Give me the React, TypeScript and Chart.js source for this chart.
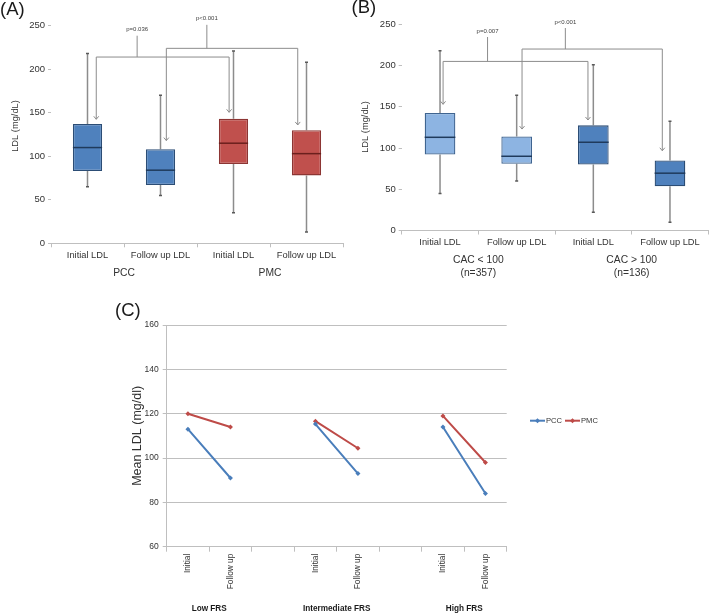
import React, { useEffect, useRef } from "react";
import { Chart, registerables } from "chart.js";

Chart.register(...registerables);

const FONT = "'Liberation Sans', Arial, Helvetica, sans-serif";
Chart.defaults.font.family = FONT;

// ---------------- Panel A data ----------------
const boxLabels = ["Initial LDL", "Follow up LDL", "Initial LDL", "Follow up LDL"];
const aGroups = [["PCC"], ["PMC"]];
const aMin = [65, 55, 35, 13];
const aQ1 = [83, 67, 91, 78];
const aMedian = [110, 84, 115, 103];
const aQ3 = [137, 108, 143, 130];
const aMax = [218, 170, 221, 208];
const aPLabels = ["p=0.036", "p<0.001"];
const aBracketFrom = [0.12, 1.08];
const aBracketTo = [1.94, 2.88];
const aBracketStem = [0.68, 1.635];
const aBracketLevel = [214, 224];
const aArrowFrom = [142.5, 118];
const aArrowTo = [150.5, 136];
const aStemTop = [238.5, 251];

// ---------------- Panel B data ----------------
const bGroups = [["CAC < 100", "(n=357)"], ["CAC > 100", "(n=136)"]];
const bMin = [45, 60, 22, 10];
const bQ1 = [92, 81, 80, 53.5];
const bMedian = [113, 90, 107, 69.5];
const bQ3 = [142.5, 114, 127.5, 85];
const bMax = [218, 164, 201, 132.5];
const bPLabels = ["p=0.007", "p<0.001"];
const bBracketFrom = [0.04, 1.07];
const bBracketTo = [1.93, 2.9];
const bBracketStem = [0.62, 1.635];
const bBracketLevel = [205, 220];
const bArrowFrom = [153, 123];
const bArrowTo = [134, 96.7];
const bStemTop = [234.6, 245.5];

const boxYTicks = [0, 50, 100, 150, 200, 250];

// ---------------- Panel C data ----------------
const cLabels = ["Initial", "Follow up", "", "Initial", "Follow up", "", "Initial", "Follow up"];
const cGroups = ["Low FRS", "Intermediate FRS", "High FRS"];
const cSeriesNames = ["PCC", "PMC"];
const pccMean = [113, 91, null, 115.3, 93, null, 114, 84];
const pmcMean = [120, 114, null, 116.6, 104.4, null, 119, 98];
const cYTicks = [60, 80, 100, 120, 140, 160];

const TEXT = "#333333";
const AXIS = "#bfbfbf";

type BoxProps = {
  left: number; top: number; width: number; height: number;
  padding: { left: number; right: number; top: number; bottom: number };
  yWidth: number; xHeight: number; xPad: number;
  min: number[]; q1: number[]; median: number[]; q3: number[]; max: number[];
  fill: string[]; border: string[]; medianColor: string[];
  pLabels: string[]; from: number[]; to: number[]; stem: number[]; level: number[];
  fromTip: number[]; toTip: number[]; stemTop: number[];
  groups: string[][]; groupOffset: number; groupLine: number; groupSize: number;
  titleX: number; titleY: number;
};

function BoxChart(p: BoxProps) {
  const ref = useRef<HTMLCanvasElement | null>(null);
  useEffect(() => {
    const canvas = ref.current!;
    const plugin = {
      id: "boxExtras",
      beforeDatasetsDraw(chart: any) {
        const { ctx, scales } = chart;
        const x = scales.x, y = scales.y;
        ctx.save();
        p.min.forEach((mn, i) => {
          const cx = x.getPixelForValue(i);
          ctx.strokeStyle = "#8c8c8c";
          ctx.lineWidth = 1.5;
          ctx.beginPath();
          ctx.moveTo(cx, y.getPixelForValue(p.max[i]));
          ctx.lineTo(cx, y.getPixelForValue(p.q3[i]));
          ctx.moveTo(cx, y.getPixelForValue(p.q1[i]));
          ctx.lineTo(cx, y.getPixelForValue(mn));
          ctx.stroke();
          ctx.strokeStyle = "#595959";
          ctx.lineWidth = 1.5;
          ctx.beginPath();
          [p.max[i], mn].forEach((v) => {
            const yy = y.getPixelForValue(v);
            ctx.moveTo(cx - 1.5, yy);
            ctx.lineTo(cx + 1.5, yy);
          });
          ctx.stroke();
        });
        ctx.restore();
      },
      afterDatasetsDraw(chart: any) {
        const { ctx, scales } = chart;
        const x = scales.x, y = scales.y;
        const meta = chart.getDatasetMeta(0);
        ctx.save();
        p.median.forEach((m, i) => {
          const bar = meta.data[i] as any;
          const half = bar.width / 2;
          const yy = y.getPixelForValue(m);
          ctx.strokeStyle = p.medianColor[i];
          ctx.lineWidth = 1.5;
          ctx.beginPath();
          ctx.moveTo(bar.x - half, yy);
          ctx.lineTo(bar.x + half, yy);
          ctx.stroke();
        });
        ctx.restore();
      },
      afterDraw(chart: any) {
        const { ctx, scales, chartArea } = chart;
        const x = scales.x, y = scales.y;
        const x0 = x.getPixelForValue(0), x1 = x.getPixelForValue(1);
        const xi = (v: number) => x0 + v * (x1 - x0);
        ctx.save();
        // brackets
        ctx.strokeStyle = "#8c8c8c";
        ctx.lineWidth = 1;
        p.pLabels.forEach((lab, k) => {
          const yl = y.getPixelForValue(p.level[k]);
          const xa = xi(p.from[k]), xb = xi(p.to[k]), xs = xi(p.stem[k]);
          const ya = y.getPixelForValue(p.fromTip[k]);
          const yb = y.getPixelForValue(p.toTip[k]);
          const yt = y.getPixelForValue(p.stemTop[k]);
          ctx.beginPath();
          ctx.moveTo(xa, ya);
          ctx.lineTo(xa, yl);
          ctx.lineTo(xb, yl);
          ctx.lineTo(xb, yb);
          ctx.moveTo(xs, yl);
          ctx.lineTo(xs, yt);
          ctx.stroke();
          [[xa, ya], [xb, yb]].forEach(([tx, ty]) => {
            ctx.beginPath();
            ctx.moveTo(tx - 2.5, ty - 3);
            ctx.lineTo(tx, ty);
            ctx.lineTo(tx + 2.5, ty - 3);
            ctx.stroke();
          });
          ctx.fillStyle = "#404040";
          ctx.font = `6px ${FONT}`;
          ctx.textAlign = "center";
          ctx.textBaseline = "middle";
          ctx.fillText(lab, xs, yt - 6);
        });
        // group labels
        ctx.fillStyle = TEXT;
        ctx.font = `${p.groupSize}px ${FONT}`;
        ctx.textAlign = "center";
        ctx.textBaseline = "middle";
        p.groups.forEach((lines, g) => {
          const cx = (x.getPixelForValue(2 * g) + x.getPixelForValue(2 * g + 1)) / 2;
          lines.forEach((t, l) => {
            ctx.fillText(t, cx, chartArea.bottom + p.groupOffset + l * p.groupLine);
          });
        });
        // y title
        ctx.translate(p.titleX, p.titleY);
        ctx.rotate(-Math.PI / 2);
        ctx.font = `9.3px ${FONT}`;
        ctx.fillText("LDL (mg/dL)", 0, 0);
        ctx.restore();
      },
    };
    const chart = new Chart(canvas, {
      type: "bar",
      data: {
        labels: boxLabels,
        datasets: [
          {
            data: p.q1.map((v, i) => [v, p.q3[i]]) as any,
            backgroundColor: p.fill,
            borderColor: p.border,
            borderWidth: 1.3,
            borderSkipped: false,
            barPercentage: 0.4,
            categoryPercentage: 1,
          },
        ],
      },
      options: {
        responsive: false,
        animation: false,
        devicePixelRatio: 1,
        layout: { padding: p.padding },
        plugins: { legend: { display: false }, tooltip: { enabled: false } },
        scales: {
          x: {
            grid: { display: true, drawOnChartArea: false, drawTicks: true, tickLength: 4, color: AXIS, offset: true },
            border: { display: true, color: AXIS },
            ticks: { color: TEXT, font: { size: 9.3, family: FONT }, padding: p.xPad, autoSkip: false, maxRotation: 0, minRotation: 0 },
            afterFit: (s: any) => { s.height = p.xHeight; },
          },
          y: {
            min: 0,
            max: 250,
            afterBuildTicks: (s: any) => { s.ticks = boxYTicks.map((v) => ({ value: v })); },
            grid: { display: true, drawOnChartArea: false, drawTicks: true, tickLength: 3, color: AXIS },
            border: { display: false },
            ticks: { color: TEXT, font: { size: 9.5, family: FONT }, padding: 3 },
            afterFit: (s: any) => { s.width = p.yWidth; },
          },
        },
      } as any,
      plugins: [plugin],
    });
    return () => chart.destroy();
  }, []);
  return (
    <canvas
      ref={ref}
      width={p.width}
      height={p.height}
      style={{ position: "absolute", left: p.left, top: p.top, width: p.width, height: p.height }}
    />
  );
}

function LineChart() {
  const ref = useRef<HTMLCanvasElement | null>(null);
  useEffect(() => {
    const colors = ["#4A7EBB", "#BE4B48"];
    const plugin = {
      id: "lineExtras",
      afterDraw(chart: any) {
        const { ctx, scales, chartArea } = chart;
        const x = scales.x;
        ctx.save();
        ctx.fillStyle = "#1a1a1a";
        ctx.font = `bold 8.2px ${FONT}`;
        ctx.textAlign = "center";
        ctx.textBaseline = "middle";
        cGroups.forEach((g, k) => {
          const cx = (x.getPixelForValue(3 * k) + x.getPixelForValue(3 * k + 1)) / 2;
          ctx.fillText(g, cx, chartArea.bottom + 62.5);
        });
        // legend
        const ly = chartArea.top + 95.7;
        let lx = chartArea.right + 23.3;
        ctx.font = `7.6px ${FONT}`;
        ctx.textAlign = "left";
        cSeriesNames.forEach((name, k) => {
          ctx.strokeStyle = colors[k];
          ctx.fillStyle = colors[k];
          ctx.lineWidth = 2;
          ctx.beginPath();
          ctx.moveTo(lx, ly);
          ctx.lineTo(lx + 15, ly);
          ctx.stroke();
          const mx = lx + 7.5;
          ctx.beginPath();
          ctx.moveTo(mx, ly - 2.5);
          ctx.lineTo(mx + 2.5, ly);
          ctx.lineTo(mx, ly + 2.5);
          ctx.lineTo(mx - 2.5, ly);
          ctx.closePath();
          ctx.fill();
          ctx.fillStyle = TEXT;
          ctx.fillText(name, lx + 16, ly + 0.5);
          lx += 35;
        });
        ctx.restore();
      },
    };
    const chart = new Chart(ref.current!, {
      type: "line",
      data: {
        labels: cLabels,
        datasets: [pccMean, pmcMean].map((d, k) => ({
          label: cSeriesNames[k],
          data: d,
          borderColor: colors[k],
          backgroundColor: colors[k],
          borderWidth: 2,
          pointStyle: "rectRot",
          pointRadius: 2.5,
          pointBorderWidth: 0,
          spanGaps: false,
        })),
      },
      options: {
        responsive: false,
        animation: false,
        devicePixelRatio: 1,
        layout: { padding: { left: 0, right: 202.3, top: 30, bottom: 18.3 } },
        plugins: { legend: { display: false }, tooltip: { enabled: false } },
        scales: {
          x: {
            offset: true,
            grid: { display: true, offset: true, drawOnChartArea: false, drawTicks: true, tickLength: 5, color: AXIS },
            border: { display: true, color: AXIS },
            ticks: { color: TEXT, font: { size: 8.3, family: FONT }, padding: 2, autoSkip: false, minRotation: 90, maxRotation: 90 },
            afterFit: (s: any) => { s.height = 50; },
          },
          y: {
            min: 60,
            max: 160,
            afterBuildTicks: (s: any) => { s.ticks = cYTicks.map((v) => ({ value: v })); },
            grid: { display: true, drawTicks: true, tickLength: 4, color: AXIS },
            border: { display: true, color: AXIS },
            ticks: { color: TEXT, font: { size: 8.5, family: FONT }, padding: 4 },
            title: { display: true, text: "Mean LDL (mg/dl)", color: TEXT, font: { size: 12.5, family: FONT }, padding: { top: 30.5, bottom: 0 } },
            afterFit: (s: any) => { s.width = 66.7; },
          },
        },
      } as any,
      plugins: [plugin],
    });
    return () => chart.destroy();
  }, []);
  return (
    <canvas ref={ref} width={609} height={320} style={{ position: "absolute", left: 100, top: 295, width: 609, height: 320 }} />
  );
}

const panelLabel = (text: string, left: number, top: number) => (
  <div style={{ position: "absolute", left, top, fontFamily: FONT, fontSize: 18.5, lineHeight: 1, color: "#1a1a1a" }}>{text}</div>
);

export default function App() {
  return (
    <div style={{ position: "absolute", left: 0, top: 0, width: 709, height: 615, background: "#ffffff", overflow: "hidden" }}>
      <BoxChart
        left={0} top={0} width={345} height={300}
        padding={{ left: 0, right: 2, top: 25.7, bottom: 36.7 }}
        yWidth={51} xHeight={20} xPad={3}
        min={aMin} q1={aQ1} median={aMedian} q3={aQ3} max={aMax}
        fill={["#4F81BD", "#4F81BD", "#C0504D", "#C0504D"]}
        border={["#2C4D75", "#2C4D75", "#8C3533", "#8C3533"]}
        medianColor={["#1F3A5C", "#1F3A5C", "#6B1F1D", "#6B1F1D"]}
        pLabels={aPLabels} from={aBracketFrom} to={aBracketTo} stem={aBracketStem} level={aBracketLevel}
        fromTip={aArrowFrom} toTip={aArrowTo} stemTop={aStemTop}
        groups={aGroups} groupOffset={30} groupLine={13} groupSize={10.3}
        titleX={15} titleY={126}
      />
      <BoxChart
        left={340} top={0} width={369} height={300}
        padding={{ left: 0, right: 0.7, top: 24.3, bottom: 49.5 }}
        yWidth={61.7} xHeight={20} xPad={2}
        min={bMin} q1={bQ1} median={bMedian} q3={bQ3} max={bMax}
        fill={["#8DB4E2", "#8DB4E2", "#4F81BD", "#4F81BD"]}
        border={["#3F6490", "#3F6490", "#2C4D75", "#2C4D75"]}
        medianColor={["#1F3A5C", "#1F3A5C", "#1F3A5C", "#1F3A5C"]}
        pLabels={bPLabels} from={bBracketFrom} to={bBracketTo} stem={bBracketStem} level={bBracketLevel}
        fromTip={bArrowFrom} toTip={bArrowTo} stemTop={bStemTop}
        groups={bGroups} groupOffset={29.5} groupLine={13.3} groupSize={10.3}
        titleX={25} titleY={127}
      />
      <LineChart />
      {panelLabel("(A)", 0, -0.5)}
      {panelLabel("(B)", 351.5, -2)}
      {panelLabel("(C)", 115, 301)}
    </div>
  );
}
